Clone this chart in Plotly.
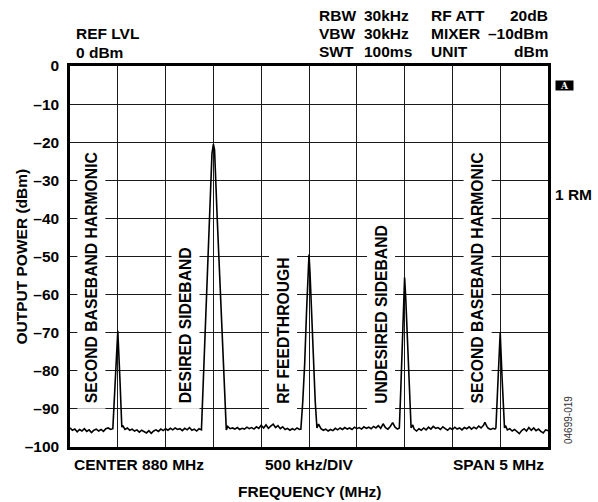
import plotly.graph_objects as go

# ---------------- data ----------------
freq_mhz = [
    877.500, 877.525, 877.550, 877.575, 877.600, 877.625, 877.650, 877.675, 877.700, 877.725,
    877.750, 877.775, 877.800, 877.825, 877.850, 877.875, 877.900, 877.925, 877.948,
    877.975, 878.000, 878.022, 878.042,
    878.050, 878.075, 878.100, 878.125, 878.150, 878.175, 878.200, 878.225, 878.250, 878.275,
    878.300, 878.325, 878.350, 878.375, 878.400, 878.425, 878.450, 878.475, 878.500, 878.525,
    878.550, 878.575, 878.600, 878.625, 878.650, 878.675, 878.700, 878.725, 878.750, 878.775,
    878.800, 878.825, 878.850, 878.875,
    878.900, 878.930, 878.960, 878.985, 879.000, 879.012, 879.040, 879.070, 879.100, 879.135,
    879.150, 879.175, 879.200, 879.225, 879.250, 879.275, 879.300, 879.325, 879.350, 879.375,
    879.400, 879.425, 879.450, 879.475, 879.500, 879.525, 879.550, 879.575, 879.600, 879.625,
    879.650, 879.675, 879.700, 879.725, 879.750, 879.775, 879.800, 879.825, 879.850, 879.875,
    879.900, 879.915,
    879.935, 879.955, 879.975, 879.990, 880.000, 880.010, 880.025, 880.045, 880.065, 880.083,
    880.100, 880.125, 880.150, 880.175, 880.200, 880.225, 880.250, 880.275, 880.300, 880.325,
    880.350, 880.375, 880.400, 880.425, 880.450, 880.475, 880.500, 880.525, 880.550, 880.575,
    880.600, 880.625, 880.650, 880.675, 880.700, 880.725, 880.750, 880.775, 880.800, 880.825,
    880.850, 880.875, 880.900, 880.925, 880.945,
    880.960, 880.975, 880.990, 881.000, 881.012, 881.030, 881.050, 881.068,
    881.085, 881.100, 881.125, 881.150, 881.175, 881.200, 881.225, 881.250, 881.275, 881.300,
    881.325, 881.350, 881.375, 881.400, 881.425, 881.450, 881.475, 881.500, 881.525, 881.550,
    881.575, 881.600, 881.625, 881.650, 881.675, 881.700, 881.725, 881.750, 881.775, 881.800,
    881.825, 881.840, 881.860, 881.875, 881.900, 881.925, 881.945, 881.955,
    881.978, 882.000, 882.020, 882.045,
    882.055, 882.075, 882.100, 882.125, 882.150, 882.175, 882.200, 882.225, 882.250, 882.275,
    882.300, 882.325, 882.350, 882.375, 882.400, 882.425, 882.450, 882.475, 882.500,
]

level_dbm = [
    -95.0, -95.6, -95.3, -96.0, -95.4, -95.8, -95.2, -95.9, -95.5, -96.2,
    -95.6, -95.3, -95.8, -95.4, -95.9, -95.2, -95.0, -95.4, -95.2,
    -82.0, -69.5, -82.0, -94.8,
    -94.3, -95.4, -95.0, -95.6, -95.3, -95.8, -95.5, -96.1, -95.6, -95.9,
    -96.3, -95.7, -96.4, -95.8, -95.5, -95.9, -95.3, -95.7, -95.2, -95.6,
    -95.1, -95.5, -95.0, -95.4, -95.2, -95.7, -95.1, -95.5, -94.9, -95.6,
    -95.3, -95.8, -95.2, -95.5,
    -80.0, -60.0, -40.0, -23.0, -20.5, -22.0, -40.0, -58.0, -75.0, -95.5,
    -94.6, -95.2, -95.0, -95.3, -94.9, -95.4, -95.1, -95.3, -94.8, -95.2,
    -94.9, -95.3, -94.7, -95.1, -94.3, -95.0, -94.2, -95.1, -94.5, -94.0,
    -94.9, -94.4, -95.2, -94.7, -95.4, -95.1, -95.6, -95.2, -95.5, -95.0,
    -95.4, -95.3,
    -88.0, -78.0, -64.0, -54.0, -49.5, -54.0, -64.0, -78.0, -88.0, -95.0,
    -94.0, -95.2, -95.6, -95.3, -95.8, -95.4, -95.7, -95.1, -95.5, -95.0,
    -95.4, -94.9, -95.3, -95.0, -95.4, -94.8, -95.2, -94.9, -95.3, -94.7,
    -95.1, -94.8, -95.2, -94.6, -95.0, -94.4, -95.1, -93.9, -94.9, -95.3,
    -94.6, -93.6, -94.8, -95.3, -95.0,
    -85.0, -72.0, -61.0, -55.5, -61.0, -72.0, -85.0, -95.0,
    -94.2, -95.3, -95.8, -95.2, -95.6, -95.0, -95.5, -94.8, -95.3, -94.6,
    -95.1, -94.9, -95.4, -94.7, -95.2, -95.6, -95.0, -95.4, -94.8, -95.3,
    -95.0, -95.5, -94.9, -95.2, -94.7, -95.3, -94.8, -95.2, -94.5, -95.0,
    -94.3, -93.5, -94.6, -95.1, -95.4, -95.1, -95.3, -95.0,
    -82.0, -70.0, -82.0, -95.0,
    -94.4, -95.5, -95.2, -95.8, -95.4, -96.0, -96.5, -95.7, -95.2, -95.8,
    -94.9, -95.6, -95.0, -95.7, -95.3, -95.9, -96.3, -95.5, -95.7,
]

x_grid = [877.5, 878.0, 878.5, 879.0, 879.5, 880.0, 880.5, 881.0, 881.5, 882.0, 882.5]
y_ticks = [0, -10, -20, -30, -40, -50, -60, -70, -80, -90, -100]
y_labels = ["0", "–10", "–20", "–30", "–40", "–50", "–60", "–70", "–80", "–90", "–100"]

peak_labels = ["SECOND BASEBAND HARMONIC", "DESIRED SIDEBAND", "RF FEEDTHROUGH",
               "UNDESIRED SIDEBAND", "SECOND BASEBAND HARMONIC"]
peak_label_freq = [877.72, 878.71, 879.73, 880.75, 881.76]

header_rows = [
    ("RBW", "30kHz", "RF ATT", "20dB"),
    ("VBW", "30kHz", "MIXER", "–10dBm"),
    ("SWT", "100ms", "UNIT", "dBm"),
]

# ---------------- layout geometry ----------------
W, H = 598, 502
L, R, T, B = 70, 50, 66, 55
PW, PH = W - L - R, H - T - B
FONT = "Liberation Sans, Arial, sans-serif"
FS = 15.5


def px(x):
    return (x - L) / PW


def py(y):
    return (H - B - y) / PH


def bold(size=FS, color="black"):
    return dict(family=FONT, size=size, color=color, weight="bold")


fig = go.Figure()
fig.add_trace(go.Scatter(x=freq_mhz, y=level_dbm, mode="lines",
                         line=dict(color="black", width=1.6), hoverinfo="skip"))

ann = []
# peak labels (rotated, white background)
for txt, f in zip(peak_labels, peak_label_freq):
    ann.append(dict(x=f, y=-90.2, xref="x", yref="y", text=txt, textangle=-90,
                    showarrow=False, xanchor="center", yanchor="bottom",
                    bgcolor="white", borderpad=5, font=bold(15.7)))

# header
ann.append(dict(x=px(74), y=py(33.5), xref="paper", yref="paper", text="REF LVL",
                showarrow=False, xanchor="left", yanchor="middle", font=bold()))
ann.append(dict(x=px(74), y=py(52.5), xref="paper", yref="paper", text="0 dBm",
                showarrow=False, xanchor="left", yanchor="middle", font=bold()))
row_y = [15, 33.5, 52]
for (a, b, c, d), yy in zip(header_rows, row_y):
    for txt, xx, anc in ((a, 316.5, "left"), (b, 361.5, "left"), (c, 429, "left"), (d, 550, "right")):
        ann.append(dict(x=px(xx), y=py(yy), xref="paper", yref="paper", text=txt,
                        showarrow=False, xanchor=anc, yanchor="middle", font=bold()))

# right side marks
ann.append(dict(x=px(564), y=py(85), xref="paper", yref="paper", text="A",
                showarrow=False, xanchor="center", yanchor="middle",
                bgcolor="black", width=17, height=9, borderpad=0,
                font=dict(family="DejaVu Serif, serif", size=9, color="white", weight="bold")))
ann.append(dict(x=px(553), y=py(194), xref="paper", yref="paper", text="1 RM",
                showarrow=False, xanchor="left", yanchor="middle", font=bold()))
ann.append(dict(x=px(568), y=py(420), xref="paper", yref="paper", text="04699-019",
                textangle=-90, showarrow=False, xanchor="center", yanchor="middle",
                font=dict(family=FONT, size=10, color="#333")))

# axis titles / bottom texts
ann.append(dict(x=px(21), y=py(256.5), xref="paper", yref="paper", text="OUTPUT POWER (dBm)",
                textangle=-90, showarrow=False, xanchor="center", yanchor="middle", font=bold()))
ann.append(dict(x=px(72), y=py(464), xref="paper", yref="paper", text="CENTER 880 MHz",
                showarrow=False, xanchor="left", yanchor="middle", font=bold()))
ann.append(dict(x=px(309), y=py(464), xref="paper", yref="paper", text="500 kHz/DIV",
                showarrow=False, xanchor="center", yanchor="middle", font=bold()))
ann.append(dict(x=px(546), y=py(464), xref="paper", yref="paper", text="SPAN 5 MHz",
                showarrow=False, xanchor="right", yanchor="middle", font=bold()))
ann.append(dict(x=px(310), y=py(491), xref="paper", yref="paper", text="FREQUENCY (MHz)",
                showarrow=False, xanchor="center", yanchor="middle", font=bold()))

fig.update_layout(
    width=W, height=H,
    margin=dict(l=L, r=R, t=T, b=B, pad=0),
    paper_bgcolor="white", plot_bgcolor="white",
    showlegend=False,
    annotations=ann,
    xaxis=dict(range=[877.5, 882.5], tickvals=x_grid, showticklabels=False, ticks="",
               showgrid=True, gridcolor="#1a1a1a", gridwidth=1.2, zeroline=False,
               showline=True, mirror=True, linecolor="black", linewidth=2.5, fixedrange=True),
    yaxis=dict(range=[-100, 0], tickvals=y_ticks, ticktext=y_labels, ticks="",
               tickfont=bold(), ticklabelstandoff=5,
               showgrid=True, gridcolor="#1a1a1a", gridwidth=1.2, zeroline=False,
               showline=True, mirror=True, linecolor="black", linewidth=2.5, fixedrange=True),
)

fig.write_html("out.html", config={"displayModeBar": False},
               post_script="document.body.style.margin='0';document.body.style.overflow='hidden';")
